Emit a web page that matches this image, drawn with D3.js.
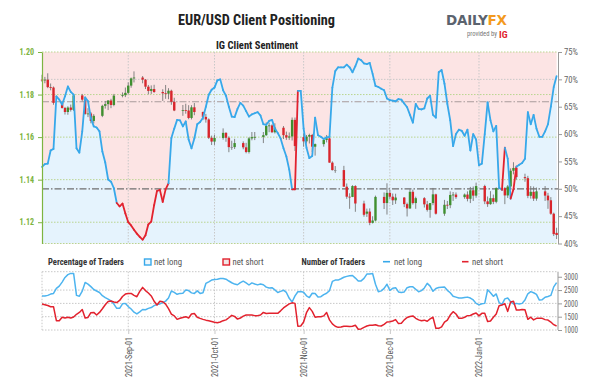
<!DOCTYPE html>
<html><head><meta charset="utf-8">
<script src="https://cdn.jsdelivr.net/npm/d3@7"></script>
<style>body{margin:0;background:#fff}svg{display:block}</style>
</head><body>
<svg id="chart" width="602" height="384"></svg>
<script>
// ---------------- DATA ----------------
const startDay = "2021-08-02";
// IG client sentiment: % of traders net long, one value per calendar day from startDay
const sentLong = [
54.0,54.5,54.6,57.0,57.3,66.9,66.3,65.4,66.9,68.7,
67.7,67.2,57.4,56.6,60.5,66.7,66.0,62.9,61.4,61.2,
60.5,56.8,54.8,51.7,51.3,50.1,47.4,46.8,47.3,45.5,
43.9,43.3,42.5,41.8,41.2,40.7,41.5,43.5,44.0,47.0,
49.6,49.8,47.6,49.9,51.0,59.3,61.0,62.6,62.5,61.4,
62.3,59.0,57.4,59.2,61.8,62.2,63.0,65.0,67.2,68.1,
68.5,69.8,70.0,68.0,67.0,65.0,63.2,63.1,64.6,65.7,
65.2,64.2,63.2,63.6,63.8,64.0,63.4,61.8,61.7,62.4,
62.6,61.0,60.2,59.2,57.4,55.9,53.5,49.9,49.9,67.9,
67.9,61.0,57.5,55.6,56.0,63.0,59.8,59.5,59.1,59.4,
59.5,68.5,71.5,72.2,72.2,72.2,72.7,72.2,71.3,72.4,
73.8,73.5,72.9,72.8,73.0,71.0,68.8,68.6,68.3,68.0,
66.5,66.2,66.1,66.0,66.4,66.3,65.6,64.9,63.5,62.1,
65.5,64.6,64.5,64.7,66.5,67.0,63.5,63.0,71.3,71.7,
69.2,65.5,62.5,57.8,60.0,60.8,60.6,59.7,60.8,57.0,
60.0,59.0,54.3,54.6,60.0,65.8,62.5,60.5,61.5,50.2,
49.8,57.5,55.5,48.2,49.9,54.0,54.4,54.7,55.5,64.0,
61.8,63.5,61.0,59.5,59.5,60.5,61.8,65.0,68.6,70.6];
// number of traders net long / net short, one value per calendar day from startDay
const tradersLong = [
2275,2275,2300,2350,2375,2563,2650,2800,2975,3080,
3125,3125,2300,2270,2460,2788,2725,2630,2520,2465,
2410,2290,2215,2160,2090,1975,1813,1813,1985,2000,
1880,1790,1670,1605,1680,1770,1760,1813,1845,1915,
1955,1980,2030,2085,2200,2465,2415,2340,2375,2385,
2505,2480,2395,2375,2470,2375,2400,2750,2810,2875,
2900,2910,2938,2938,2910,2840,2775,2725,2700,2780,
2835,2770,2690,2770,2730,2695,2725,2700,2610,2575,
2590,2505,2410,2450,2495,2410,2190,2050,2280,2438,
2445,2420,2285,2220,2380,2370,2240,2250,2330,2380,
2480,2825,2875,2875,2925,2980,3015,3040,3050,2950,
2840,2845,2938,3100,3100,3120,2720,2440,2470,2565,
2720,2490,2565,2590,2430,2405,2430,2590,2625,2620,
2530,2438,2480,2580,2750,2650,2455,2560,2595,2610,
2615,2490,2400,2270,2235,2200,2200,2218,2235,2200,
2130,2000,1942,1985,2000,2510,2400,2265,2355,2030,
1960,2170,2200,2060,1980,2000,1980,2000,2130,2360,
2440,2400,2340,2125,2140,2230,2260,2300,2620,2780];
const tradersShort = [
1975,1950,1920,1875,1875,1350,1350,1480,1450,1480,
1450,1490,1590,1660,1770,1450,1470,1650,1660,1563,
1660,1800,1950,2070,2090,2050,2030,2110,2260,2350,
2375,2375,2300,2250,2450,2600,2480,2390,2280,2080,
1938,2080,2060,1970,1800,1600,1530,1400,1440,1470,
1500,1450,1600,1620,1480,1438,1400,1370,1350,1320,
1290,1275,1300,1350,1380,1460,1550,1510,1410,1450,
1520,1563,1563,1563,1540,1540,1563,1660,1620,1625,
1625,1625,1625,1720,1830,1910,1980,2020,2000,1140,
1150,1300,1650,1840,1700,1480,1500,1500,1530,1660,
1380,1230,1140,1100,1110,1140,1140,1130,1140,1180,
1030,1040,1100,1150,1180,1180,1200,1160,1150,1210,
1300,1313,1340,1390,1240,1250,1380,1470,1510,1530,
1440,1380,1350,1370,1330,1420,1480,1063,1063,1120,
1300,1375,1563,1688,1600,1440,1438,1480,1540,1545,
1600,1640,1530,1625,1625,1320,1340,1480,1600,1915,
1938,1990,1700,2050,2080,1750,1750,1770,1760,1400,
1480,1380,1438,1438,1438,1390,1375,1300,1200,1150];
// EUR/USD daily candles
const candleDate = [
"2021-08-02","2021-08-03","2021-08-04","2021-08-05","2021-08-06","2021-08-09","2021-08-10","2021-08-11","2021-08-12","2021-08-13",
"2021-08-16","2021-08-17","2021-08-18","2021-08-19","2021-08-20","2021-08-23","2021-08-24","2021-08-25","2021-08-26","2021-08-27",
"2021-08-30","2021-08-31","2021-09-01","2021-09-02","2021-09-03","2021-09-06","2021-09-07","2021-09-08","2021-09-09","2021-09-10",
"2021-09-13","2021-09-14","2021-09-15","2021-09-16","2021-09-17","2021-09-20","2021-09-21","2021-09-22","2021-09-23","2021-09-24",
"2021-09-27","2021-09-28","2021-09-29","2021-09-30","2021-10-01","2021-10-04","2021-10-05","2021-10-06","2021-10-07","2021-10-08",
"2021-10-11","2021-10-12","2021-10-13","2021-10-14","2021-10-15","2021-10-18","2021-10-19","2021-10-20","2021-10-21","2021-10-22",
"2021-10-25","2021-10-26","2021-10-27","2021-10-28","2021-10-29","2021-11-01","2021-11-02","2021-11-03","2021-11-04","2021-11-05",
"2021-11-08","2021-11-09","2021-11-10","2021-11-11","2021-11-12","2021-11-15","2021-11-16","2021-11-17","2021-11-18","2021-11-19",
"2021-11-22","2021-11-23","2021-11-24","2021-11-25","2021-11-26","2021-11-29","2021-11-30","2021-12-01","2021-12-02","2021-12-03",
"2021-12-06","2021-12-07","2021-12-08","2021-12-09","2021-12-10","2021-12-13","2021-12-14","2021-12-15","2021-12-16","2021-12-17",
"2021-12-20","2021-12-21","2021-12-22","2021-12-23","2021-12-24","2021-12-27","2021-12-28","2021-12-29","2021-12-30","2021-12-31",
"2022-01-03","2022-01-04","2022-01-05","2022-01-06","2022-01-07","2022-01-10","2022-01-11","2022-01-12","2022-01-13","2022-01-14",
"2022-01-17","2022-01-18","2022-01-19","2022-01-20","2022-01-21","2022-01-24","2022-01-25","2022-01-26","2022-01-27","2022-01-28"];
const candleOpen = [
1.1870,1.1868,1.1870,1.1835,1.1833,1.1760,1.1737,1.1718,1.1739,1.1728,
1.1796,1.1776,1.1709,1.1711,1.1676,1.1700,1.1747,1.1755,1.1772,1.1751,
1.1795,1.1797,1.1808,1.1842,1.1876,1.1880,1.1870,1.1837,1.1817,1.1826,
1.1812,1.1806,1.1804,1.1818,1.1766,1.1725,1.1727,1.1725,1.1690,1.1740,
1.1718,1.1695,1.1683,1.1597,1.1579,1.1596,1.1620,1.1597,1.1553,1.1553,
1.1572,1.1552,1.1530,1.1594,1.1600,1.1601,1.1609,1.1653,1.1655,1.1623,
1.1644,1.1609,1.1598,1.1603,1.1681,1.1600,1.1580,1.1602,1.1610,1.1555,
1.1567,1.1587,1.1594,1.1480,1.1445,1.1445,1.1367,1.1320,1.1319,1.1370,
1.1288,1.1240,1.1250,1.1197,1.1208,1.1319,1.1290,1.1338,1.1320,1.1303,
1.1316,1.1285,1.1265,1.1343,1.1290,1.1313,1.1284,1.1258,1.1290,1.1331,
1.1240,1.1282,1.1280,1.1328,1.1330,1.1318,1.1330,1.1310,1.1350,1.1325,
1.1370,1.1298,1.1285,1.1313,1.1296,1.1360,1.1326,1.1368,1.1442,1.1455,
1.1412,1.1407,1.1324,1.1343,1.1311,1.1345,1.1325,1.1303,1.1240,1.1150];
const candleHigh = [
1.1893,1.1883,1.1900,1.1852,1.1838,1.1770,1.1742,1.1745,1.1753,1.1802,
1.1803,1.1781,1.1736,1.1718,1.1708,1.1752,1.1770,1.1774,1.1780,1.1803,
1.1810,1.1833,1.1857,1.1880,1.1909,1.1887,1.1873,1.1845,1.1843,1.1846,
1.1825,1.1845,1.1830,1.1823,1.1785,1.1751,1.1757,1.1750,1.1750,1.1760,
1.1720,1.1709,1.1688,1.1607,1.1611,1.1641,1.1623,1.1603,1.1583,1.1592,
1.1580,1.1573,1.1600,1.1624,1.1624,1.1624,1.1669,1.1668,1.1660,1.1665,
1.1652,1.1626,1.1622,1.1692,1.1692,1.1617,1.1610,1.1616,1.1615,1.1570,
1.1595,1.1610,1.1600,1.1486,1.1464,1.1465,1.1382,1.1336,1.1374,1.1374,
1.1301,1.1264,1.1265,1.1228,1.1325,1.1340,1.1383,1.1353,1.1335,1.1334,
1.1318,1.1292,1.1355,1.1353,1.1320,1.1318,1.1300,1.1290,1.1361,1.1334,
1.1305,1.1300,1.1345,1.1342,1.1340,1.1335,1.1345,1.1366,1.1368,1.1386,
1.1376,1.1321,1.1346,1.1330,1.1364,1.1365,1.1375,1.1453,1.1482,1.1467,
1.1428,1.1418,1.1370,1.1368,1.1363,1.1370,1.1338,1.1318,1.1245,1.1174];
const candleLow = [
1.1860,1.1853,1.1830,1.1820,1.1752,1.1734,1.1706,1.1705,1.1720,1.1723,
1.1768,1.1705,1.1694,1.1665,1.1664,1.1694,1.1734,1.1727,1.1736,1.1745,
1.1787,1.1788,1.1801,1.1832,1.1857,1.1853,1.1826,1.1801,1.1803,1.1808,
1.1770,1.1780,1.1778,1.1752,1.1722,1.1700,1.1710,1.1684,1.1683,1.1703,
1.1680,1.1668,1.1591,1.1563,1.1563,1.1588,1.1578,1.1529,1.1540,1.1544,
1.1543,1.1524,1.1523,1.1585,1.1586,1.1572,1.1606,1.1623,1.1619,1.1617,
1.1591,1.1587,1.1587,1.1584,1.1535,1.1555,1.1570,1.1570,1.1530,1.1513,
1.1555,1.1575,1.1480,1.1443,1.1432,1.1368,1.1310,1.1263,1.1318,1.1249,
1.1226,1.1225,1.1186,1.1194,1.1204,1.1262,1.1236,1.1309,1.1281,1.1286,
1.1271,1.1227,1.1262,1.1283,1.1263,1.1269,1.1250,1.1221,1.1280,1.1236,
1.1230,1.1262,1.1266,1.1300,1.1310,1.1310,1.1298,1.1290,1.1300,1.1315,
1.1285,1.1272,1.1282,1.1285,1.1289,1.1285,1.1314,1.1355,1.1425,1.1400,
1.1390,1.1313,1.1311,1.1300,1.1301,1.1300,1.1263,1.1235,1.1135,1.1121];
const candleClose = [
1.1869,1.1870,1.1835,1.1833,1.1761,1.1737,1.1718,1.1739,1.1728,1.1796,
1.1776,1.1709,1.1711,1.1676,1.1700,1.1747,1.1755,1.1772,1.1751,1.1795,
1.1797,1.1808,1.1842,1.1876,1.1880,1.1870,1.1837,1.1817,1.1826,1.1812,
1.1806,1.1804,1.1818,1.1766,1.1725,1.1727,1.1725,1.1690,1.1740,1.1718,
1.1695,1.1683,1.1597,1.1579,1.1596,1.1620,1.1597,1.1553,1.1553,1.1572,
1.1552,1.1530,1.1594,1.1600,1.1601,1.1609,1.1653,1.1655,1.1623,1.1644,
1.1609,1.1598,1.1603,1.1681,1.1558,1.1580,1.1602,1.1610,1.1555,1.1567,
1.1587,1.1594,1.1480,1.1445,1.1445,1.1367,1.1320,1.1319,1.1370,1.1288,
1.1235,1.1250,1.1197,1.1208,1.1319,1.1290,1.1338,1.1320,1.1303,1.1316,
1.1285,1.1265,1.1343,1.1290,1.1313,1.1284,1.1258,1.1290,1.1331,1.1240,
1.1282,1.1280,1.1328,1.1330,1.1318,1.1330,1.1310,1.1350,1.1325,1.1370,
1.1298,1.1285,1.1313,1.1296,1.1360,1.1326,1.1368,1.1442,1.1455,1.1412,
1.1407,1.1324,1.1343,1.1311,1.1345,1.1325,1.1303,1.1240,1.1144,1.1140];
const priceTicks = [1.12, 1.14, 1.16, 1.18, 1.20];
const pctTicks = [40, 45, 50, 55, 60, 65, 70, 75];
const traderTicks = [1000, 1500, 2000, 2500, 3000];
const monthTicks = ["2021-09-01", "2021-10-01", "2021-11-01", "2021-12-01", "2022-01-01"];
const refPct = [50, 65.9, 70];   // dash-dot reference levels + 70% dotted line
const priceDomain = [1.11, 1.20];
const pctDomain = [40, 75];
const traderDomain = [1000, 3190];

// ---------------- DRAW ----------------
(function () {
const FONT = "'Liberation Sans Narrow','Roboto Condensed','Arial Narrow','Liberation Sans',Arial,sans-serif";
const C = {pink:"#fce4e4", lightBlue:"#e5f3fd", blue:"#37a8ea", red:"#e2222e", green:"#7db441",
  greenGrid:"#b9d58f", grid:"#c8c8c8", axis:"#9a9a9a", text:"#555", up:"#3f8f2f", down:"#d9252c", wick:"#777"};
const svg = d3.select("#chart").style("font-family", FONT);
const parse = d3.utcParse("%Y-%m-%d");
const t0 = parse(startDay);
const days = sentLong.map((_, i) => d3.utcDay.offset(t0, i));
const L = 42, R = 558, TOP = 52, BOT = 243.5, BT = 271.7, BB = 330;

const x = d3.scaleUtc().domain([t0, days[days.length - 1]]).range([L, 556.6]);
const yP = d3.scaleLinear().domain(priceDomain).range([BOT, TOP]);
const yS = d3.scaleLinear().domain(pctDomain).range([BOT, TOP]);
const yT = d3.scaleLinear().domain(traderDomain).range([BB, BT]);

// titles
svg.append("text").attr("x", 256.5).attr("y", 25).attr("text-anchor", "middle")
  .attr("font-size", 14).attr("font-weight", "bold").attr("fill", "#222")
  .attr("textLength", 157).attr("lengthAdjust", "spacingAndGlyphs").text("EUR/USD Client Positioning");
svg.append("text").attr("x", 257).attr("y", 48.5).attr("text-anchor", "middle")
  .attr("font-size", 10).attr("font-weight", "bold").attr("fill", "#222")
  .attr("textLength", 82).attr("lengthAdjust", "spacingAndGlyphs").text("IG Client Sentiment");

// logo
const logo = svg.append("text").attr("x", 446).attr("y", 24.5).attr("font-size", 13.5).attr("font-weight", "bold")
  .attr("textLength", 61).attr("lengthAdjust", "spacing").style("font-family", "'DejaVu Sans',sans-serif");
logo.append("tspan").attr("fill", "#5b636e").text("DAILY");
logo.append("tspan").attr("fill", "#f39a1e").text("FX");
svg.append("text").attr("x", 497).attr("y", 36).attr("text-anchor", "end").attr("font-size", 6.5)
  .attr("fill", "#777").attr("textLength", 30).attr("lengthAdjust", "spacingAndGlyphs").text("provided by");
svg.append("text").attr("x", 499).attr("y", 37.5).attr("font-size", 9.5).attr("font-weight", "bold")
  .attr("fill", C.red).attr("textLength", 8.5).attr("lengthAdjust", "spacingAndGlyphs").text("IG");

// ---- top panel ----
const topG = svg.append("g");
topG.append("rect").attr("x", x(days[0])).attr("y", TOP).attr("width", x(days[days.length - 1]) - x(days[0]))
  .attr("height", BOT - TOP).attr("fill", C.pink);
const sent = days.map((d, i) => ({d, v: sentLong[i]}));
topG.append("path").datum(sent).attr("fill", C.lightBlue)
  .attr("d", d3.area().x(p => x(p.d)).y0(BOT).y1(p => yS(p.v)));

// grid
topG.selectAll("line.pg").data(priceTicks).join("line").attr("class", "pg")
  .attr("x1", L).attr("x2", R).attr("y1", d => yP(d)).attr("y2", d => yP(d))
  .attr("stroke", C.greenGrid).attr("stroke-dasharray", "1.5,1.5");
topG.append("line").attr("x1", L).attr("x2", R).attr("y1", BOT).attr("y2", BOT)
  .attr("stroke", C.greenGrid).attr("stroke-dasharray", "1.5,1.5");
topG.selectAll("line.mg").data(monthTicks).join("line").attr("class", "mg")
  .attr("x1", d => x(parse(d))).attr("x2", d => x(parse(d))).attr("y1", TOP).attr("y2", BOT)
  .attr("stroke", C.grid).attr("stroke-dasharray", "1.5,1.5");
topG.append("line").attr("x1", L).attr("x2", R).attr("y1", yS(refPct[2])).attr("y2", yS(refPct[2]))
  .attr("stroke", C.grid).attr("stroke-dasharray", "1.5,1.5");
topG.append("line").attr("x1", L).attr("x2", R).attr("y1", yS(refPct[1])).attr("y2", yS(refPct[1]))
  .attr("stroke", "#a89b9b").attr("stroke-width", 1.1).attr("stroke-dasharray", "7,2,1.5,2");
topG.append("line").attr("x1", L).attr("x2", R).attr("y1", yS(refPct[0])).attr("y2", yS(refPct[0]))
  .attr("stroke", "#6f6f6f").attr("stroke-width", 1.2).attr("stroke-dasharray", "7,2,1.5,2");

// candles
const candles = candleDate.map((d, i) => ({d: parse(d), o: candleOpen[i], h: candleHigh[i], l: candleLow[i], c: candleClose[i]}));
const cg = topG.append("g");
cg.selectAll("line").data(candles).join("line")
  .attr("x1", k => x(k.d)).attr("x2", k => x(k.d)).attr("y1", k => yP(k.h)).attr("y2", k => yP(k.l))
  .attr("stroke", C.wick).attr("stroke-width", 0.9);
cg.selectAll("rect").data(candles).join("rect")
  .attr("x", k => x(k.d) - 1.2).attr("width", 2.4)
  .attr("y", k => yP(Math.max(k.o, k.c)))
  .attr("height", k => Math.max(0.8, Math.abs(yP(k.o) - yP(k.c))))
  .attr("fill", k => k.c > k.o ? C.up : (k.c < k.o ? C.down : "#888"));

// sentiment line coloured by segment
topG.selectAll("line.seg").data(d3.pairs(sent)).join("line").attr("class", "seg")
  .attr("x1", p => x(p[0].d)).attr("y1", p => yS(p[0].v)).attr("x2", p => x(p[1].d)).attr("y2", p => yS(p[1].v))
  .attr("stroke", p => p[0].v < 50 ? C.red : C.blue).attr("stroke-width", 1.8).attr("stroke-linecap", "round");

// axes top
const axL = topG.append("g").attr("transform", `translate(${L},0)`)
  .call(d3.axisLeft(yP).tickValues(priceTicks).tickFormat(d3.format(".2f")).tickSize(4).tickSizeOuter(0).tickPadding(4));
axL.select(".domain").attr("stroke", C.green).attr("stroke-width", 1.2);
axL.selectAll(".tick line").attr("stroke", C.green);
axL.selectAll(".tick text").attr("fill", C.green).attr("font-size", 8.5).attr("font-family", FONT)
  .attr("font-weight", "bold").attr("textLength", 14.5).attr("lengthAdjust", "spacingAndGlyphs");

const axR = topG.append("g").attr("transform", `translate(${R},0)`)
  .call(d3.axisRight(yS).tickValues(pctTicks).tickFormat(d => d + "%").tickSize(4).tickSizeOuter(0).tickPadding(2));
axR.select(".domain").attr("stroke", C.axis);
axR.selectAll(".tick line").attr("stroke", C.axis);
axR.selectAll(".tick text").attr("fill", "#666").attr("font-size", 8.5).attr("font-family", FONT)
  .attr("textLength", 14).attr("lengthAdjust", "spacingAndGlyphs");

// ---- legend row ----
const lg = svg.append("g").attr("font-size", 8.5);
lg.append("text").attr("x", 48).attr("y", 265).attr("font-weight", "bold").attr("fill", "#333")
  .attr("textLength", 76).attr("lengthAdjust", "spacingAndGlyphs").text("Percentage of Traders");
lg.append("rect").attr("x", 144.5).attr("y", 259).attr("width", 6.5).attr("height", 6)
  .attr("fill", "#eef7fd").attr("stroke", C.blue).attr("stroke-width", 1.4);
lg.append("text").attr("x", 154).attr("y", 265).attr("fill", C.text)
  .attr("textLength", 28).attr("lengthAdjust", "spacingAndGlyphs").text("net long");
lg.append("rect").attr("x", 223).attr("y", 259).attr("width", 6.5).attr("height", 6)
  .attr("fill", "#f1e6e6").attr("stroke", C.red).attr("stroke-width", 1.4);
lg.append("text").attr("x", 232.5).attr("y", 265).attr("fill", C.text)
  .attr("textLength", 31).attr("lengthAdjust", "spacingAndGlyphs").text("net short");
lg.append("text").attr("x", 301.5).attr("y", 265).attr("font-weight", "bold").attr("fill", "#333")
  .attr("textLength", 63.5).attr("lengthAdjust", "spacingAndGlyphs").text("Number of Traders");
lg.append("line").attr("x1", 383).attr("x2", 390).attr("y1", 261.7).attr("y2", 261.7).attr("stroke", C.blue).attr("stroke-width", 1.6);
lg.append("text").attr("x", 394).attr("y", 265).attr("fill", C.text)
  .attr("textLength", 28).attr("lengthAdjust", "spacingAndGlyphs").text("net long");
lg.append("line").attr("x1", 462).attr("x2", 468.5).attr("y1", 261.7).attr("y2", 261.7).attr("stroke", C.red).attr("stroke-width", 1.6);
lg.append("text").attr("x", 472).attr("y", 265).attr("fill", C.text)
  .attr("textLength", 31).attr("lengthAdjust", "spacingAndGlyphs").text("net short");

// ---- bottom panel ----
const botG = svg.append("g");
botG.selectAll("line.tg").data(traderTicks.slice(0, 4).concat([traderDomain[1]])).join("line").attr("class", "tg")
  .attr("x1", L).attr("x2", R).attr("y1", d => yT(d)).attr("y2", d => yT(d))
  .attr("stroke", C.grid).attr("stroke-dasharray", "1.5,1.5");
botG.append("line").attr("x1", L).attr("x2", L).attr("y1", BT).attr("y2", BB)
  .attr("stroke", C.grid).attr("stroke-dasharray", "1.5,1.5");
botG.selectAll("line.bm").data(monthTicks).join("line").attr("class", "bm")
  .attr("x1", d => x(parse(d))).attr("x2", d => x(parse(d))).attr("y1", BT).attr("y2", BB)
  .attr("stroke", C.grid).attr("stroke-dasharray", "1.5,1.5");

const lineT = arr => d3.line().x((v, i) => x(days[i])).y(v => yT(v))(arr);
botG.append("path").attr("d", lineT(tradersLong)).attr("fill", "none").attr("stroke", "#4db4ef").attr("stroke-width", 1.5).attr("stroke-linejoin", "round");
botG.append("path").attr("d", lineT(tradersShort)).attr("fill", "none").attr("stroke", C.red).attr("stroke-width", 1.5).attr("stroke-linejoin", "round");

const axB = botG.append("g").attr("transform", `translate(0,${BB})`)
  .call(d3.axisBottom(x).tickValues(monthTicks.map(parse)).tickFormat(d3.utcFormat("%Y-%b-%d")).tickSize(4).tickSizeOuter(0));
axB.select(".domain").remove();
axB.selectAll(".tick line").attr("stroke", C.grid);
axB.selectAll(".tick text").attr("transform", "rotate(-90)").attr("x", -7).attr("y", 0).attr("dy", "0.33em")
  .attr("text-anchor", "end").attr("fill", C.text).attr("font-size", 8.5).attr("font-family", FONT)
  .attr("textLength", 40).attr("lengthAdjust", "spacingAndGlyphs");

const axT = botG.append("g").attr("transform", `translate(${R},0)`)
  .call(d3.axisRight(yT).tickValues(traderTicks).tickFormat(d3.format("d")).tickSize(4).tickSizeOuter(0).tickPadding(2));
axT.select(".domain").attr("stroke", C.axis).attr("d", `M0,${BT}V${BB}`);
axT.selectAll(".tick line").attr("stroke", C.axis);
axT.selectAll(".tick text").attr("fill", "#666").attr("font-size", 8.5).attr("font-family", FONT)
  .attr("textLength", 14).attr("lengthAdjust", "spacingAndGlyphs");
})();
</script>
</body></html>
